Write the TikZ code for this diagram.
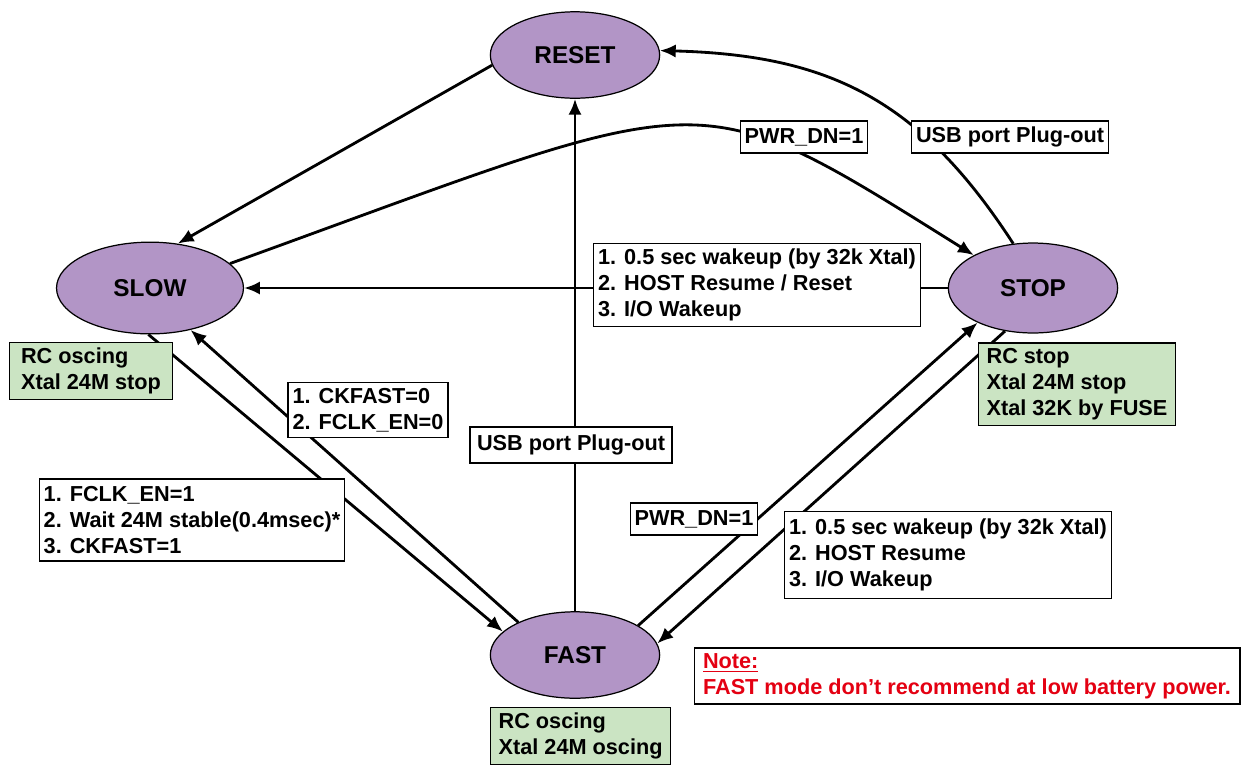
\documentclass[tikz,border=0pt]{standalone}
\usepackage{fontspec}
\setmainfont{Liberation Sans}
\usetikzlibrary{shapes.geometric,arrows.meta}
\definecolor{statefill}{RGB}{178,149,198}
\definecolor{clkfill}{RGB}{203,228,195}
\definecolor{notered}{RGB}{228,0,18}

\begin{document}
\begin{tikzpicture}[x=0.567pt,y=-0.567pt,
  state/.style={draw,ellipse,fill=statefill,line width=0.7pt,inner sep=0pt,font=\bfseries\fontsize{13.8}{16}\selectfont},
  cond/.style={draw,fill=white,line width=0.8pt,align=left,inner xsep=2.5pt,inner ysep=3pt,minimum height=18pt,font=\bfseries\fontsize{12.3}{14.8}\selectfont},
  clk/.style={cond,fill=clkfill,inner xsep=4.5pt},
  trans/.style={line width=1.6pt,-{Latex[length=9pt,width=7.5pt]}}]
  \useasboundingbox (0,0) rectangle (1249,767);
  \foreach \n/\x/\y/\w/\h in {RESET/575/55/96/49, SLOW/150/288/106/52, STOP/1033/288/96/51, FAST/575/655/96/49}
    \node[state,minimum width=\w pt,minimum height=\h pt] (\n) at (\x,\y) {\n};

  % transitions
  \draw[trans] (RESET.187) -- (SLOW.58);
  \draw[trans] (SLOW.17) .. controls (718,87) and (687,76) .. (STOP.151);
  \draw[trans] (STOP.114) .. controls (920,100) and (830,55) .. (RESET.3);
  \draw[trans] (STOP.west) -- (SLOW.east);
  \draw[trans] (FAST.north) -- (RESET.south);
  \draw[trans] (FAST.150) -- (SLOW.314);
  \draw[trans] (SLOW.268) -- (FAST.162);
  \draw[trans] (FAST.25) -- (STOP.212);
  \draw[trans] (STOP.237) -- (FAST.8);

  % conditions
  \node[cond] (pwrtop) at (804,137) {PWR\_DN=1};
  \node[cond] (usbtop) at (1010,137) {USB port Plug-out};
  \node[cond] (wakeslow) at (757,285) {1. 0.5 sec wakeup (by 32k Xtal)\\2. HOST Resume / Reset\\3. I/O Wakeup};
  \node[cond] (ckslow) at (368,410) {1. CKFAST=0\\2. FCLK\_EN=0};
  \node[cond,inner xsep=4pt,minimum height=20.5pt] (usbmid) at (571,445) {USB port Plug-out};
  \node[cond,inner ysep=4pt] (fclk) at (192,520) {1. FCLK\_EN=1\\2. Wait 24M stable(0.4msec)*\\3. CKFAST=1};
  \node[cond] (pwrbot) at (694,519) {PWR\_DN=1};
  \node[cond,inner ysep=4pt] (wakefast) at (948,555) {1. 0.5 sec wakeup (by 32k Xtal)\\2. HOST Resume\\3. I/O Wakeup};

  % clock states
  \node[clk,inner xsep=6.5pt] (clkslow) at (91,371) {RC oscing\\Xtal 24M stop};
  \node[clk] (clkstop) at (1077,384) {RC stop\\Xtal 24M stop\\Xtal 32K by FUSE};
  \node[clk,anchor=north west] (clkfast) at (490,707) {RC oscing\\Xtal 24M oscing};

  \node[cond,text=notered,inner xsep=5pt] (note) at (967,676) {\underline{Note:}\\FAST mode don’t recommend at low battery power.};
\end{tikzpicture}
\end{document}
